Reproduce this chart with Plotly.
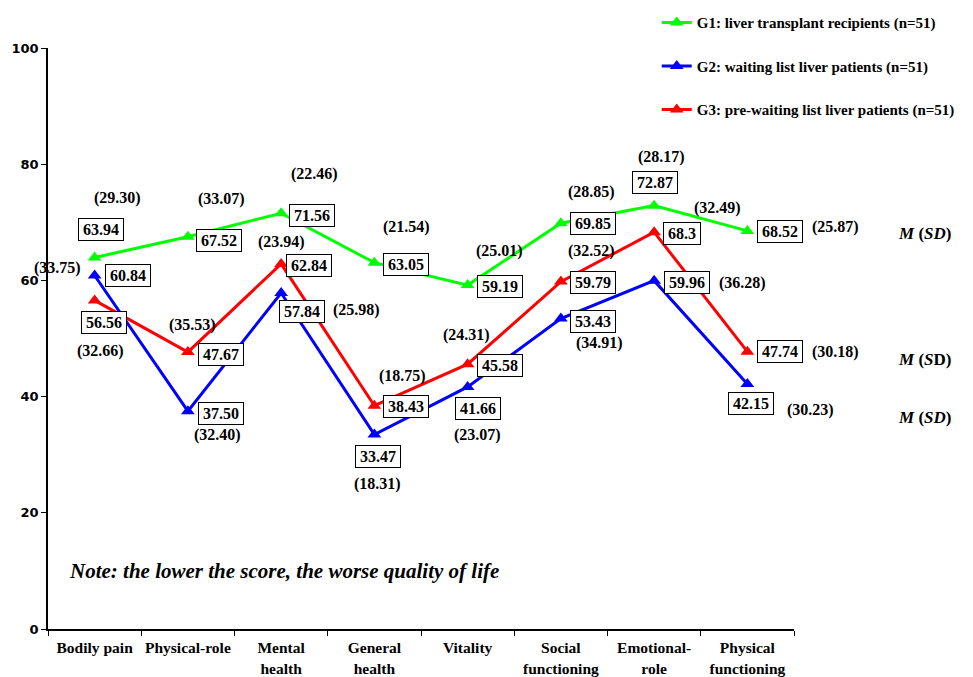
import plotly.graph_objects as go

categories = ["Bodily pain", "Physical-role", "Mental<br>health", "General<br>health",
              "Vitality", "Social<br>functioning", "Emotional-<br>role", "Physical<br>functioning"]

g1_name = "G1: liver transplant recipients (n=51)"
g2_name = "G2: waiting list liver patients (n=51)"
g3_name = "G3: pre-waiting list liver patients (n=51)"

g1_mean = [63.94, 67.52, 71.56, 63.05, 59.19, 69.85, 72.87, 68.52]
g2_mean = [60.84, 37.50, 57.84, 33.47, 41.66, 53.43, 59.96, 42.15]
g3_mean = [56.56, 47.67, 62.84, 38.43, 45.58, 59.79, 68.3, 47.74]

g1_mean_txt = ["63.94", "67.52", "71.56", "63.05", "59.19", "69.85", "72.87", "68.52"]
g2_mean_txt = ["60.84", "37.50", "57.84", "33.47", "41.66", "53.43", "59.96", "42.15"]
g3_mean_txt = ["56.56", "47.67", "62.84", "38.43", "45.58", "59.79", "68.3", "47.74"]

g1_sd = ["(29.30)", "(33.07)", "(22.46)", "(21.54)", "(25.01)", "(28.85)", "(28.17)", "(25.87)"]
g2_sd = ["(33.75)", "(32.40)", "(25.98)", "(18.31)", "(23.07)", "(34.91)", "(36.28)", "(30.23)"]
g3_sd = ["(32.66)", "(35.53)", "(23.94)", "(18.75)", "(24.31)", "(32.52)", "(32.49)", "(30.18)"]

y_ticks = [0, 20, 40, 60, 80, 100]
note_text = "<i>Note: the lower the score, the worse quality of life</i>"

# label pixel offsets (dx, dy screen; dy positive = downward)
g1_box_off = [(6, -28.5), (31, 4), (31, 2), (32, 2), (32, 1), (32, 0), (1, -23), (33, 1)]
g1_sd_off = [(23, -59.5), (34, -38), (33, -39), (32, -36), (32, -34), (30.5, -31), (7, -49), (88, -4)]
g2_box_off = [(33, 0), (33, 2), (21, 19), (4, 21.5), (10, 22), (32.5, 3), (33, 2), (4, 19)]
g2_sd_off = [(-37, -7.5), (30, 24), (75, 17), (3, 49.5), (10, 48), (38.5, 24), (88, 2), (63, 26)]
g3_box_off = [(9, 22.6), (33, 2), (28, 2), (32, 1), (32, 1), (32.5, 1), (28, 1), (33, 0)]
g3_sd_off = [(6, 50.6), (5, -27), (0, -22), (28, -30), (-1, -29), (30.5, -31), (63, -24), (88, 0)]
msd_off = [(177, 3), (177, 33), (177, 8)]
msd_txt = ["<i>M</i> (<i>SD</i>)", "<i>M</i> (<i>SD</i>)", "<i>M</i> (<i>S</i>D)"]

SERIF = "Liberation Serif"
groups = [
    (g1_name, g1_mean, g1_mean_txt, g1_sd, g1_box_off, g1_sd_off, "#00FF00"),
    (g2_name, g2_mean, g2_mean_txt, g2_sd, g2_box_off, g2_sd_off, "#0000FF"),
    (g3_name, g3_mean, g3_mean_txt, g3_sd, g3_box_off, g3_sd_off, "#FF0000"),
]

fig = go.Figure()
annotations = []
for gi, (name, mean, mtxt, sd, boff, soff, color) in enumerate(groups):
    fig.add_trace(go.Scatter(
        x=categories, y=mean, name=name, mode="lines+markers",
        line=dict(color=color, width=3),
        marker=dict(symbol="triangle-up", size=12, color=color),
        legendgroup=f"g{gi}", cliponaxis=False,
    ))
    for i, cat in enumerate(categories):
        annotations.append(dict(
            x=cat, y=mean[i], xref="x", yref="y", text=mtxt[i], showarrow=False,
            xshift=boff[i][0], yshift=-boff[i][1], xanchor="center", yanchor="middle",
            font=dict(family=SERIF, size=16, color="black", weight="bold"),
            width=8 * len(mtxt[i]), height=17, align="center",
            bgcolor="white", bordercolor="black", borderwidth=1, borderpad=2,
        ))
        annotations.append(dict(
            x=cat, y=mean[i], xref="x", yref="y", text=sd[i], showarrow=False,
            xshift=soff[i][0], yshift=-soff[i][1], xanchor="center", yanchor="middle",
            font=dict(family=SERIF, size=16, color="black", weight="bold"),
        ))
    annotations.append(dict(
        x=categories[-1], y=mean[-1], xref="x", yref="y", text=msd_txt[gi], showarrow=False,
        xshift=msd_off[gi][0], yshift=-msd_off[gi][1], xanchor="center", yanchor="middle",
        font=dict(family=SERIF, size=17, color="black", weight="bold"),
    ))

annotations.append(dict(
    x=0.026, y=0.0998, xref="paper", yref="paper", text=note_text, showarrow=False,
    xanchor="left", yanchor="middle",
    font=dict(family=SERIF, size=21, color="black", weight="bold"),
))

fig.update_layout(
    width=965, height=669,
    margin=dict(l=40, r=179, t=40, b=48, autoexpand=False),
    paper_bgcolor="white", plot_bgcolor="white",
    annotations=annotations,
    showlegend=True,
    legend=dict(
        x=0.816, y=1.072, xanchor="left", yanchor="top",
        font=dict(family=SERIF, size=15, color="black", weight="bold"),
        bgcolor="rgba(0,0,0,0)", tracegroupgap=21, traceorder="grouped",
    ),
    xaxis=dict(
        type="category", range=[-0.5, 7.5], showgrid=False, zeroline=False,
        showline=True, linecolor="black", linewidth=1.5,
        ticks="outside", tickson="boundaries", ticklen=5, tickcolor="black",
        tickangle=0, ticklabelstandoff=4,
        tickfont=dict(family=SERIF, size=15.5, color="black", weight="bold"),
    ),
    yaxis=dict(
        range=[0, 100], tickvals=y_ticks, showgrid=False, zeroline=False,
        showline=True, linecolor="black", linewidth=1.5,
        ticks="outside", ticklen=5, tickcolor="black",
        tickfont=dict(family="DejaVu Sans", size=13, color="black", weight="bold"),
    ),
)

fig.write_html("out.html")
